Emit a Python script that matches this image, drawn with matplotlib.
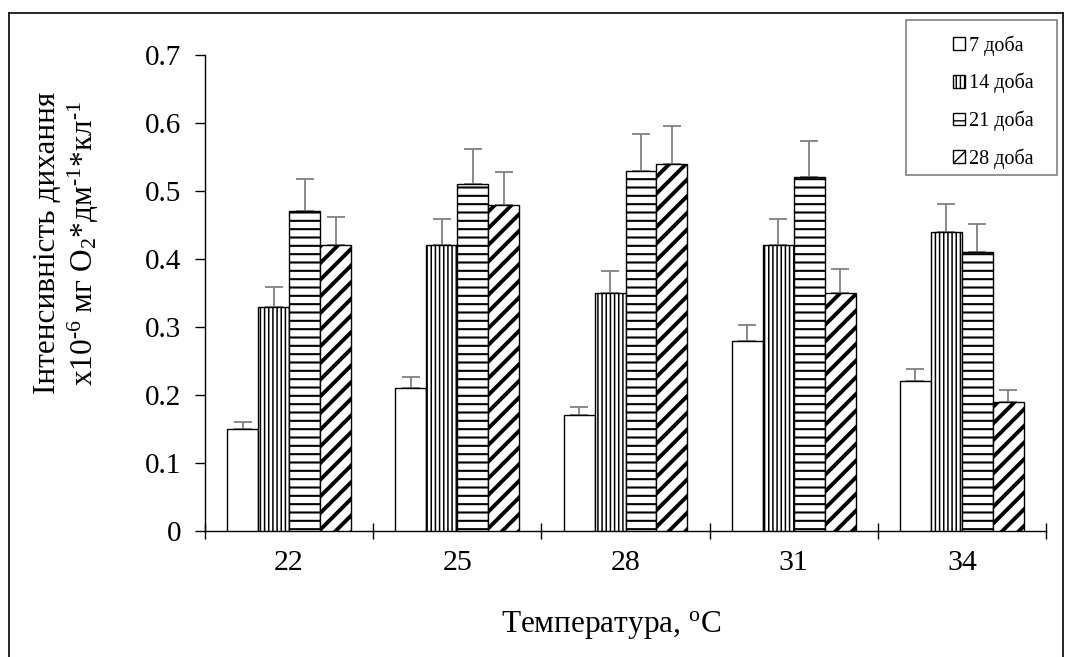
import numpy as np
import matplotlib
matplotlib.use("Agg")
import matplotlib.pyplot as plt
from matplotlib.lines import Line2D
from matplotlib.patches import Rectangle

plt.rcParams['font.family'] = ['Liberation Serif', 'DejaVu Serif']
plt.rcParams['mathtext.fontset'] = 'custom'
plt.rcParams['mathtext.rm'] = 'Liberation Serif'
plt.rcParams['mathtext.it'] = 'Liberation Serif:italic'
plt.rcParams['mathtext.bf'] = 'Liberation Serif:bold'

# Температура, °C
temperatures = ['22', '25', '28', '31', '34']
series_names = ['7 доба', '14 доба', '21 доба', '28 доба']

day7 = [0.15, 0.21, 0.17, 0.28, 0.22]
day14 = [0.33, 0.42, 0.35, 0.42, 0.44]
day21 = [0.47, 0.51, 0.53, 0.52, 0.41]
day28 = [0.42, 0.48, 0.54, 0.35, 0.19]

err7 = [0.011, 0.016, 0.013, 0.023, 0.018]
err14 = [0.029, 0.039, 0.032, 0.039, 0.041]
err21 = [0.048, 0.052, 0.054, 0.053, 0.041]
err28 = [0.042, 0.048, 0.055, 0.035, 0.017]

values = [day7, day14, day21, day28]
errors = [err7, err14, err21, err28]
hatches = ['', '||||', '--', '//']
hatch_widths = [1.0, 1.1, 1.5, 2.8]

W, H = 1072, 657
fig = plt.figure(figsize=(W / 100, H / 100), dpi=100)
fig.patch.set_facecolor('white')

ax_left, ax_right = 205, 1046
ax_top, ax_bottom = 55, 531
ax = fig.add_axes([ax_left / W, 1 - ax_bottom / H,
                   (ax_right - ax_left) / W, (ax_bottom - ax_top) / H])

x = np.arange(len(temperatures))
bar_w = 0.184
offsets = (np.arange(4) - 1.5) * bar_w

handles = []
for i in range(4):
    with plt.rc_context({'hatch.linewidth': hatch_widths[i], 'hatch.color': 'black'}):
        bars = ax.bar(x + offsets[i], values[i], width=bar_w, color='white',
                      edgecolor='black', linewidth=1.0, hatch=hatches[i],
                      zorder=3, label=series_names[i])
        for b in bars:
            if hasattr(b, 'set_hatch_linewidth'):
                b.set_hatch_linewidth(hatch_widths[i])
    handles.append(bars)
    lower = np.zeros(len(values[i]))
    ax.errorbar(x + offsets[i], values[i], yerr=[lower, errors[i]], fmt='none',
                ecolor='#808080', elinewidth=1.3, capsize=6.5, capthick=1.3,
                zorder=2)

ax.set_xlim(-0.5, len(temperatures) - 0.5)
ax.set_ylim(0, 0.7)
ax.set_yticks(np.arange(0, 0.71, 0.1))
ax.set_yticklabels(['0', '0.1', '0.2', '0.3', '0.4', '0.5', '0.6', '0.7'])

ax.set_xticks(x)
ax.set_xticklabels(temperatures)
ax.set_xticks(np.arange(-0.5, len(temperatures)), minor=True)
ax.tick_params(axis='x', which='major', length=0, pad=14, labelsize=21.5)
ax.tick_params(axis='x', which='minor', direction='inout', length=11, width=1)
ax.tick_params(axis='y', which='major', direction='out', length=7, width=1,
               pad=10, labelsize=21)

for s in ['top', 'right']:
    ax.spines[s].set_visible(False)
for s in ['left', 'bottom']:
    ax.spines[s].set_linewidth(1.0)
    ax.spines[s].set_color('black')

ax.set_xlabel('Температура, $^{\\mathrm{o}}$C', fontsize=22.5)
ax.xaxis.set_label_coords((611 - ax_left) / (ax_right - ax_left),
                          -(625 - ax_bottom) / (ax_bottom - ax_top))
ax.xaxis.label.set_va('center')

fig.text(67 / W, 1 - 243 / H,
         'Інтенсивність дихання\n'
         'x10$^{\\mathrm{\u2010 6}}$ мг O$_{\\mathrm{2}}$*дм$^{\\mathrm{\u20101}}$*кл$^{\\mathrm{\u20101}}$',
         rotation=90, ha='center', va='center', fontsize=22.5,
         multialignment='center', linespacing=1.15)

# legend box
fig.add_artist(Rectangle((906 / W, 1 - 175 / H), (1057 - 906) / W, (175 - 20) / H,
                         transform=fig.transFigure, facecolor='white',
                         edgecolor='#808080', linewidth=1.2, zorder=9))
leg = fig.legend(handles=handles, labels=series_names, loc='center left',
                 bbox_to_anchor=(953 / W, 1 - 102 / H), bbox_transform=fig.transFigure,
                 fontsize=14.5, frameon=False,
                 handlelength=0.6, handleheight=0.6, handletextpad=0.2,
                 labelspacing=0.85, borderpad=0, borderaxespad=0)
leg.set_zorder(10)

# outer frame
frame_kw = dict(color='black', linewidth=1.2, transform=fig.transFigure)
fig.add_artist(Line2D([8.5 / W, 8.5 / W], [1 - 13 / H, -0.01], **frame_kw))
fig.add_artist(Line2D([8.5 / W, 1063 / W], [1 - 13 / H, 1 - 13 / H], **frame_kw))
fig.add_artist(Line2D([1063 / W, 1063 / W], [1 - 13 / H, -0.01], **frame_kw))

fig.savefig('out.png', dpi=100)
